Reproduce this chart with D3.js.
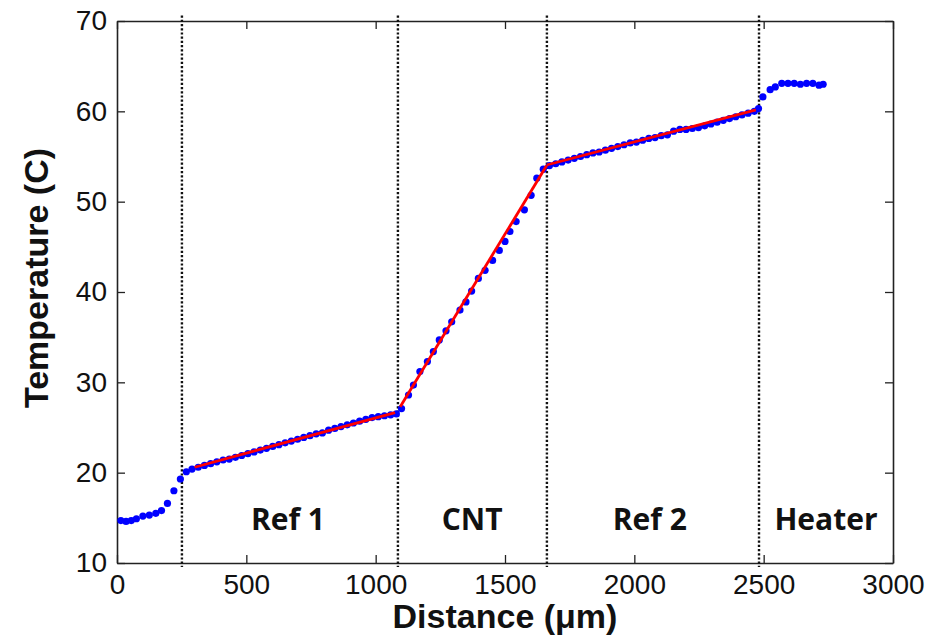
<!DOCTYPE html>
<html lang="en">
  <head>
    <meta charset="utf-8">
    <title>Temperature vs Distance</title>
    <script src="https://d3js.org/d3.v7.js"></script>
    <style>
      html, body {margin: 0; padding: 0; background: white; overflow: hidden;}
      svg {display: block;}
      .tick text {font-family: "Liberation Sans", Arial, sans-serif; font-size: 28px; fill: #111;}
      .axis-title {font-family: "Liberation Sans", Arial, sans-serif; font-weight: bold; font-size: 34px; fill: #111;}
      .region {font-family: "Open Sans", sans-serif; font-weight: bold; font-size: 30px; fill: #111;}
    </style>
  </head>
  <body>
  <script>

// measured points (distance in um, temperature in C)
var leadX = [15, 35, 55, 75, 100, 125, 150, 172, 195, 220, 245, 268];
var leadY = [14.7, 14.6, 14.7, 14.9, 15.2, 15.3, 15.5, 15.8, 16.6, 18.0, 19.3, 20.1];

var ref1X = [290, 314, 338, 362, 386, 410, 434, 458, 482, 506, 530, 554, 578, 602, 626, 650, 674,
             698, 722, 746, 770, 794, 818, 842, 866, 890, 914, 938, 962, 986, 1010, 1034, 1058, 1080];
var ref1Y = [20.4, 20.6, 20.8, 21.0, 21.2, 21.4, 21.5, 21.7, 21.9, 22.1, 22.3, 22.5, 22.7, 22.9, 23.1, 23.3, 23.5,
             23.7, 23.9, 24.1, 24.3, 24.4, 24.7, 24.9, 25.1, 25.3, 25.5, 25.7, 25.9, 26.1, 26.2, 26.3, 26.4, 26.5];

var cntX = [1100, 1127, 1146, 1171, 1200, 1223, 1246, 1272, 1294, 1326, 1349, 1371,
            1397, 1423, 1452, 1478, 1500, 1519, 1543, 1575, 1601, 1623, 1648];
var cntY = [27.1, 28.6, 29.7, 31.2, 32.3, 33.4, 34.7, 35.7, 36.7, 38.0, 38.9, 40.1,
            41.5, 42.4, 43.5, 44.6, 45.6, 46.7, 47.8, 49.1, 50.7, 52.6, 53.6];

var ref2X = [1672, 1696, 1720, 1744, 1768, 1792, 1816, 1840, 1864, 1888, 1912, 1936, 1960, 1984, 2008, 2032, 2056,
             2080, 2104, 2128, 2152, 2176, 2200, 2224, 2248, 2272, 2296, 2320, 2344, 2368, 2392, 2416, 2440, 2464, 2480];
var ref2Y = [54.0, 54.2, 54.4, 54.6, 54.8, 55.0, 55.2, 55.4, 55.5, 55.7, 55.9, 56.1, 56.3, 56.5, 56.6, 56.8, 57.0,
             57.1, 57.3, 57.4, 57.8, 58.0, 58.0, 58.1, 58.2, 58.4, 58.6, 58.8, 59.0, 59.2, 59.4, 59.6, 59.8, 60.0, 60.3];

var heaterX = [2497, 2525, 2545, 2570, 2594, 2618, 2642, 2666, 2690, 2714, 2730];
var heaterY = [61.6, 62.4, 62.7, 63.1, 63.1, 63.1, 63.0, 63.1, 63.1, 62.9, 63.0];

// linear fits (red)
var fitRef1X = [300, 1075];
var fitRef1Y = [20.6, 26.65];
var fitCntX = [1095, 1661];
var fitCntY = [27.3, 54.0];
var fitRef2X = [1661, 2470];
var fitRef2Y = [54.06, 60.15];

// region boundaries and labels
var bounds = [251, 1086, 1662, 2482];
var regionNames = ["Ref 1", "CNT", "Ref 2", "Heater"];
var regionX = [661, 1373, 2060, 2741];
var regionY = 13.6;

var xTicks = [0, 500, 1000, 1500, 2000, 2500, 3000];
var yTicks = [10, 20, 30, 40, 50, 60, 70];

var w = 931, h = 640;
var margin = {top: 21, right: 38, bottom: 77, left: 117};
var innerWidth = w - margin.left - margin.right;
var innerHeight = h - margin.top - margin.bottom;

var svg = d3.select("body").append("svg")
    .attr("width", w)
    .attr("height", h);

var g = svg.append("g")
    .attr("transform", `translate(${margin.left},${margin.top})`);

var xScale = d3.scaleLinear().domain([0, 3000]).range([0, innerWidth]);
var yScale = d3.scaleLinear().domain([10, 70]).range([innerHeight, 0]);

// axes with inward ticks on all sides
function styleAxis(sel) {
  sel.attr("font-family", null).attr("font-size", null);
  sel.select(".domain").attr("stroke", "#222").attr("stroke-width", 1.6);
  sel.selectAll(".tick line").attr("stroke", "#222").attr("stroke-width", 1.3);
}

g.append("g")
    .attr("transform", `translate(0,${innerHeight})`)
    .call(d3.axisBottom(xScale).tickValues(xTicks).tickFormat(d3.format("d"))
      .tickSizeInner(-8).tickSizeOuter(0).tickPadding(11))
    .call(styleAxis);
g.append("g")
    .call(d3.axisTop(xScale).tickValues(xTicks).tickSizeInner(-8).tickSizeOuter(0).tickFormat(""))
    .call(styleAxis);
g.append("g")
    .call(d3.axisLeft(yScale).tickValues(yTicks).tickFormat(d3.format("d"))
      .tickSizeInner(-8).tickSizeOuter(0).tickPadding(10))
    .call(styleAxis);
g.append("g")
    .attr("transform", `translate(${innerWidth},0)`)
    .call(d3.axisRight(yScale).tickValues(yTicks).tickSizeInner(-8).tickSizeOuter(0).tickFormat(""))
    .call(styleAxis);

// dotted boundaries
g.selectAll(".bound")
  .data(bounds)
  .join("line")
    .attr("class", "bound")
    .attr("x1", d => xScale(d))
    .attr("x2", d => xScale(d))
    .attr("y1", yScale(70.6))
    .attr("y2", yScale(9.55))
    .attr("stroke", "#111")
    .attr("stroke-width", 2.4)
    .attr("stroke-dasharray", "2.2,2");

// blue points
var allX = leadX.concat(ref1X, cntX, ref2X, heaterX);
var allY = leadY.concat(ref1Y, cntY, ref2Y, heaterY);
var points = allX.map((x, i) => ({x: x, y: allY[i]}));

g.selectAll(".pt")
  .data(points)
  .join("circle")
    .attr("class", "pt")
    .attr("cx", d => xScale(d.x))
    .attr("cy", d => yScale(d.y))
    .attr("r", 3.6)
    .attr("fill", "#0000ff");

// red fits
var line = d3.line().x(d => xScale(d[0])).y(d => yScale(d[1]));
[[fitRef1X, fitRef1Y], [fitCntX, fitCntY], [fitRef2X, fitRef2Y]].forEach(function(f) {
  g.append("path")
    .datum(f[0].map((x, i) => [x, f[1][i]]))
    .attr("d", line)
    .attr("fill", "none")
    .attr("stroke", "#ff0000")
    .attr("stroke-width", 2.8);
});

// region labels
g.selectAll(".region")
  .data(regionNames)
  .join("text")
    .attr("class", "region")
    .attr("x", (d, i) => xScale(regionX[i]))
    .attr("y", yScale(regionY))
    .attr("text-anchor", "middle")
    .text(d => d);

// axis titles
svg.append("text")
    .attr("class", "axis-title")
    .attr("x", 505)
    .attr("y", 628)
    .attr("text-anchor", "middle")
    .text("Distance (\u03bcm)");

svg.append("text")
    .attr("class", "axis-title")
    .attr("transform", "translate(48,278) rotate(-90)")
    .attr("text-anchor", "middle")
    .text("Temperature (C)");

  </script>
  </body>
</html>
